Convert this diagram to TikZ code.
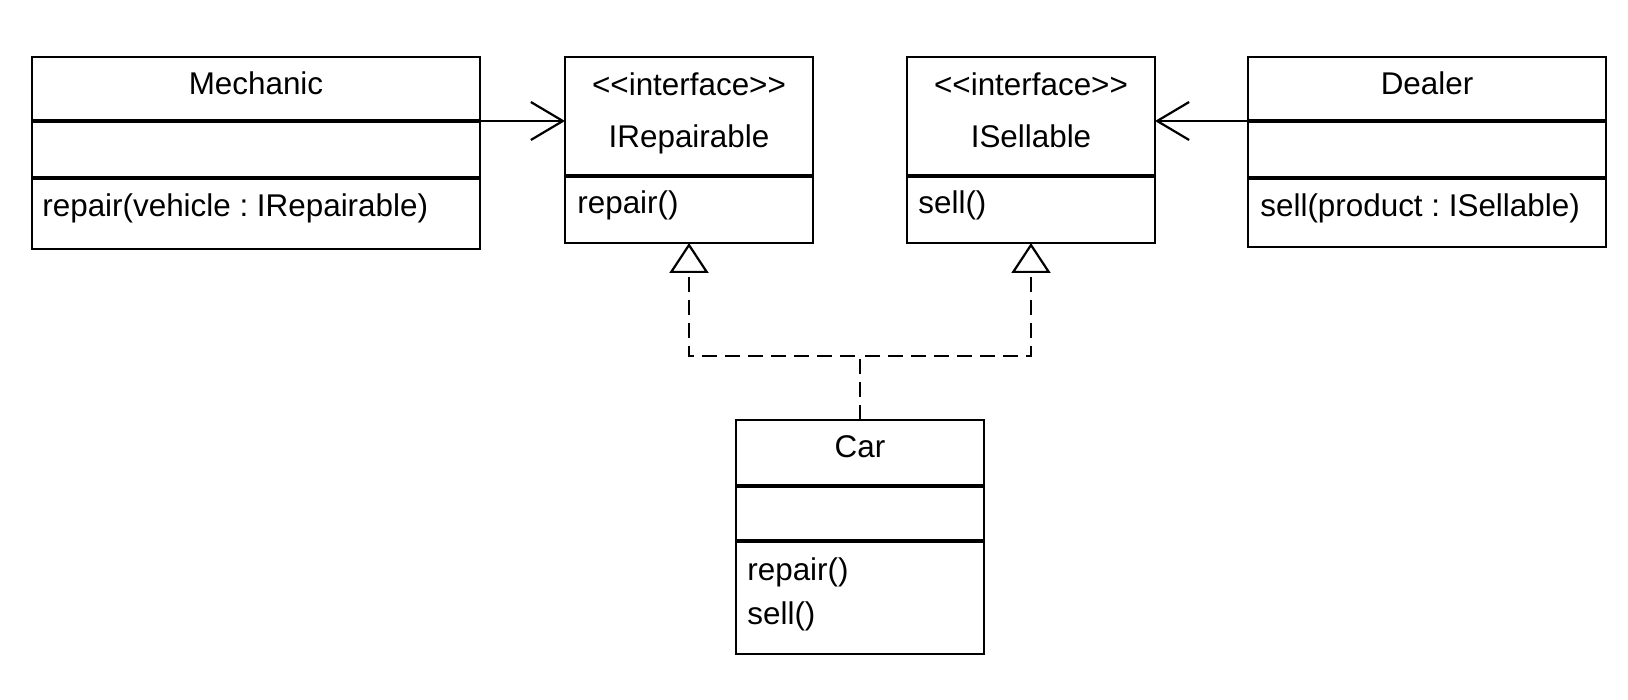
\documentclass[tikz,border=0pt]{standalone}
\usepackage{fontspec}
\setmainfont{Liberation Sans}[Ligatures=TeXOff]
\usetikzlibrary{arrows.meta}
\frenchspacing

\begin{document}
\begin{tikzpicture}[x=0.5pt, y=-0.5pt, font=\fontsize{15.7}{18}\selectfont,
	class/.style={draw, line width=1.4pt, inner sep=0pt, outer sep=0pt},
	divider/.style={line width=2.4pt},
	title/.style={inner sep=0pt, anchor=base},
	member/.style={inner sep=0pt, anchor=base west},
	uses/.style={line width=1.1pt, -{Straight Barb[length=16pt, width=19pt, line width=1.1pt]}},
	realizes/.style={line width=1.3pt, dash pattern=on 7.5pt off 4pt, -{Triangle[open, length=15pt, width=19.5pt, line width=1.1pt]}}]
\useasboundingbox (0,0) rectangle (1628,700);

\node[class, minimum width=224pt, minimum height=96pt] (mechanic) at (256,153) {};
\node[class, minimum width=124pt, minimum height=93pt] (irepairable) at (689,150) {};
\node[class, minimum width=124pt, minimum height=93pt] (isellable) at (1031,150) {};
\node[class, minimum width=179pt, minimum height=95pt] (dealer) at (1427,152) {};
\node[class, minimum width=124pt, minimum height=117pt] (car) at (860,537) {};

\draw[divider] ([yshift=-32pt]mechanic.north west) -- ([yshift=-32pt]mechanic.north east) coordinate (mechanic link);
\draw[divider] ([yshift=-60.5pt]mechanic.north west) -- ([yshift=-60.5pt]mechanic.north east);
\draw[divider] ([yshift=-59.5pt]irepairable.north west) -- ([yshift=-59.5pt]irepairable.north east);
\draw[divider] ([yshift=-59.5pt]isellable.north west) -- ([yshift=-59.5pt]isellable.north east);
\draw[divider] ([yshift=-32pt]dealer.north west) coordinate (dealer link) -- ([yshift=-32pt]dealer.north east);
\draw[divider] ([yshift=-60.5pt]dealer.north west) -- ([yshift=-60.5pt]dealer.north east);
\draw[divider] ([yshift=-33pt]car.north west) -- ([yshift=-33pt]car.north east);
\draw[divider] ([yshift=-60.5pt]car.north west) -- ([yshift=-60.5pt]car.north east);

\node[title] (mechanic name) at ([yshift=-19pt]mechanic.north) {Mechanic};
\node[member] (mechanic repair) at ([xshift=5pt, yshift=-80pt]mechanic.north west) {repair(vehicle : IRepairable)};
\node[title] (irepairable stereo) at ([yshift=-19.5pt]irepairable.north) {<<interface>>};
\node[title] (irepairable name) at ([yshift=-45.5pt]irepairable.north) {IRepairable};
\node[member] (irepairable repair) at ([xshift=6pt, yshift=-78.5pt]irepairable.north west) {repair()};
\node[title] (isellable stereo) at ([yshift=-19.5pt]isellable.north) {<<interface>>};
\node[title] (isellable name) at ([yshift=-45.5pt]isellable.north) {ISellable};
\node[member] (isellable sell) at ([xshift=5.5pt, yshift=-78.5pt]isellable.north west) {sell()};
\node[title] (dealer name) at ([yshift=-19pt]dealer.north) {Dealer};
\node[member] (dealer sell) at ([xshift=6pt, yshift=-80pt]dealer.north west) {sell(product : ISellable)};
\node[title] (car name) at ([yshift=-18.5pt]car.north) {Car};
\node[member] (car repair) at ([xshift=5.5pt, yshift=-80pt]car.north west) {repair()};
\node[member] (car sell) at ([xshift=5.5pt, yshift=-102pt]car.north west) {sell()};

%%associations
\draw[uses] (mechanic link) -- (mechanic link -| irepairable.west);
\draw[uses] (dealer link) -- (dealer link -| isellable.east);

%%realizations
\coordinate (car join) at ([yshift=32pt]car.north);
\draw[realizes] (car.north) -- (car join) -| (irepairable.south);
\draw[realizes] (car.north) -- (car join) -| (isellable.south);
\end{tikzpicture}
\end{document}
